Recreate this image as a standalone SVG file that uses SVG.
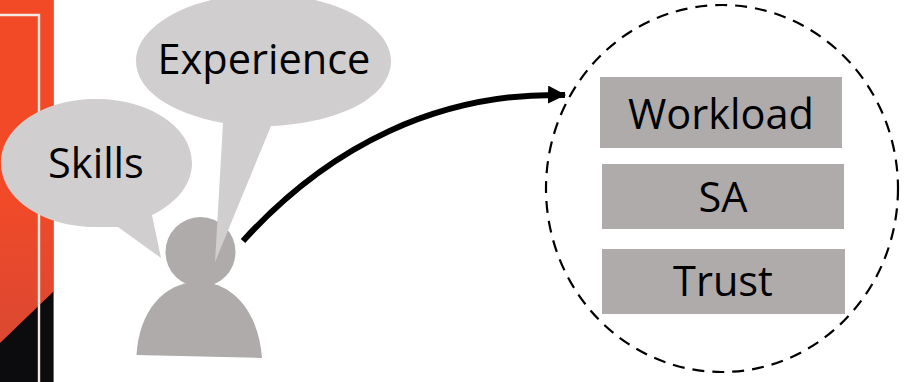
<svg xmlns="http://www.w3.org/2000/svg" width="910" height="382" viewBox="0 0 910 382">
<defs>
<linearGradient id="red" x1="0" y1="0" x2="0" y2="1"><stop offset="0" stop-color="#f24a26"/><stop offset="0.5" stop-color="#f24a28"/><stop offset="0.85" stop-color="#dd4830"/></linearGradient>
<marker id="arrow" markerUnits="userSpaceOnUse" markerWidth="20" markerHeight="20" refX="17" refY="9" orient="auto"><path d="M0 0L18 9L0 18Z" fill="#000"/></marker>
</defs>
<style>
.bubble{fill:#d0cecf}
.shape{fill:#aeabaa}
text{font-family:"Open Sans","Noto Sans","Liberation Sans",sans-serif;font-size:41.500px;fill:#000;text-anchor:middle}
</style>
<rect width="910" height="382" fill="#fff"/>
<g id="panel">
<rect x="0" y="0" width="54" height="382" fill="url(#red)"/>
<path d="M0 343L54 291V382H0Z" fill="#0c0b0d"/>
<path d="M0 15H39V382" fill="none" stroke="#f6e9e2" stroke-width="2.4"/>
<rect x="53" y="0" width="1" height="382" fill="#999" opacity="0.7"/>
</g>
<g id="person">
<circle class="shape" cx="200.500" cy="252" r="35"/>
<path class="shape" d="M136.500 355C139 312 163 282 199 282C235 282 259 315 262 358Z"/>
</g>
<g id="skills">
<path class="bubble" d="M1 163C1 127 43 99 96 99C149 99 192 127 192 163C192 184 177 203 152 215L161 258L118 227C108 227 105 227 96 227C43 227 1 199 1 163Z"/>
<text x="96" y="178">Skills</text>
</g>
<g id="experience">
<path class="bubble" d="M136 61C136 25 193 -6 263 -6C333 -6 391 25 391 61C391 97 340 123 271 126L215 262L223 123C170 113 136 90 136 61Z"/>
<text x="264" y="74">Experience</text>
</g>
<g id="connectors">
<path d="M243 241C330 145 440 92 565 95" fill="none" stroke="#000" stroke-width="6" marker-end="url(#arrow)"/>
</g>
<g id="boundary">
<ellipse cx="722" cy="188.500" rx="176" ry="183.500" fill="none" stroke="#000" stroke-width="2.200" stroke-dasharray="12 8"/>
</g>
<g id="workload">
<rect class="shape" x="600" y="77" width="242" height="71"/>
<text x="721" y="129">Workload</text>
</g>
<g id="sa">
<rect class="shape" x="602" y="164" width="242" height="65"/>
<text x="723" y="212">SA</text>
</g>
<g id="trust">
<rect class="shape" x="602" y="249" width="243" height="65"/>
<text x="723" y="296">Trust</text>
</g>
</svg>
